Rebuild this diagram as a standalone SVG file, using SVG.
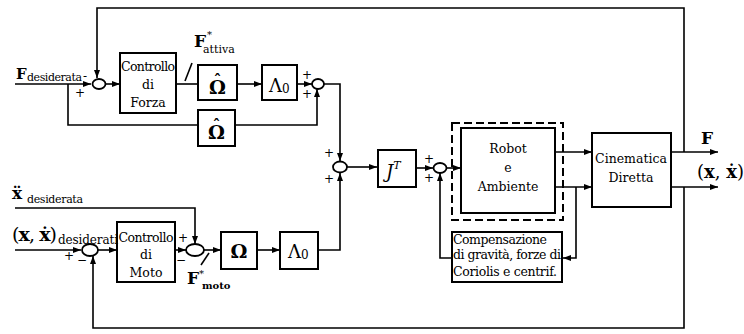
<svg xmlns="http://www.w3.org/2000/svg" width="744" height="334" viewBox="0 0 744 334">
<style>
.box{fill:#fff;stroke:#000;stroke-width:2}
.sum{fill:#fff;stroke:#000;stroke-width:1.8}
.w{fill:none;stroke:#000;stroke-width:1.6}
text{font-family:'DejaVu Serif','Liberation Serif',serif;fill:#000}
.lbl{font-size:12.5px;text-anchor:middle}
.sg{font-size:12px;text-anchor:middle}
.b{font-weight:bold}
</style>
<defs>
<marker id="a" markerUnits="userSpaceOnUse" markerWidth="9" markerHeight="8" refX="8" refY="4" orient="auto">
<path d="M0,1 L8,4 L0,7 Z" fill="#000"/>
</marker>
</defs>
<rect width="744" height="334" fill="#fff"/>
<g id="connectors">
<path class="w" d="M15,84 H91" marker-end="url(#a)"/>
<path class="w" d="M684,152 V8 H97 V78" marker-end="url(#a)"/>
<path class="w" d="M105.5,84 H120" marker-end="url(#a)"/>
<path class="w" d="M68,84 V125 H198"/>
<path class="w" d="M235,125 H317 V89" marker-end="url(#a)"/>
<path class="w" d="M176,84 H198"/>
<path class="w" d="M185,81 L192,63"/>
<path class="w" d="M237,84 H262" marker-end="url(#a)"/>
<path class="w" d="M297,84 H312" marker-end="url(#a)"/>
<path class="w" d="M324,84 H340 V161" marker-end="url(#a)"/>
<path class="w" d="M318,250 H340 V173" marker-end="url(#a)"/>
<path class="w" d="M347,167 H377" marker-end="url(#a)"/>
<path class="w" d="M416,168 H433" marker-end="url(#a)"/>
<path class="w" d="M446.5,168 H461" marker-end="url(#a)"/>
<path class="w" d="M555,152 H592" marker-end="url(#a)"/>
<path class="w" d="M555,187 H592" marker-end="url(#a)"/>
<path class="w" d="M576,187 V258 H563" marker-end="url(#a)"/>
<path class="w" d="M452,258 H440 V173" marker-end="url(#a)"/>
<path class="w" d="M671,152 H718" marker-end="url(#a)"/>
<path class="w" d="M671,187 H718" marker-end="url(#a)"/>
<path class="w" d="M684,187 V328 H93 V256" marker-end="url(#a)"/>
<path class="w" d="M15,250 H81" marker-end="url(#a)"/>
<path class="w" d="M98,250 H117" marker-end="url(#a)"/>
<path class="w" d="M175,250 H186" marker-end="url(#a)"/>
<path class="w" d="M15,208 H195 V244" marker-end="url(#a)"/>
<path class="w" d="M204,250 H221" marker-end="url(#a)"/>
<path class="w" d="M201,265 L209,253"/>
<path class="w" d="M257,250 H280" marker-end="url(#a)"/>
</g>
<g id="sum1"><ellipse class="sum" cx="99" cy="84" rx="6.5" ry="5"/>
<text class="sg" x="80" y="97">+</text></g>
<g id="sum2"><ellipse class="sum" cx="318" cy="84" rx="6" ry="5"/>
<text class="sg" x="307" y="79">+</text><text class="sg" x="307" y="98">+</text></g>
<g id="sum3"><ellipse class="sum" cx="340" cy="167" rx="7" ry="5.5"/>
<text class="sg" x="329" y="157">+</text><text class="sg" x="329" y="183">+</text></g>
<g id="sum4"><ellipse class="sum" cx="440" cy="168" rx="6.5" ry="5"/>
<text class="sg" x="429" y="163">+</text><text class="sg" x="429" y="182">+</text></g>
<g id="sumM1"><ellipse class="sum" cx="90" cy="250" rx="8" ry="6"/>
<text class="sg" x="69" y="260">+</text><text class="sg" x="82" y="264">−</text></g>
<g id="sumM2"><ellipse class="sum" cx="195" cy="250" rx="9" ry="6"/>
<text class="sg" x="183" y="242">+</text><text class="sg" x="181" y="264">−</text></g>
<g id="controllo-forza"><rect class="box" x="120" y="53" width="56" height="60"/>
<text class="lbl" x="148" y="71" textLength="54">Controllo</text><text class="lbl" x="148" y="89">di</text><text class="lbl" x="148" y="107">Forza</text></g>
<g id="omegahat1"><rect class="box" x="198" y="65" width="39" height="35"/>
<text class="b" x="217.5" y="94" font-size="19" text-anchor="middle">Ω<tspan x="217.5" y="85" font-size="15">ˆ</tspan></text></g>
<g id="omegahat2"><rect class="box" x="198" y="110" width="37" height="36"/>
<text class="b" x="216.5" y="139" font-size="19" text-anchor="middle">Ω<tspan x="216.5" y="130" font-size="15">ˆ</tspan></text></g>
<g id="lambda1"><rect class="box" x="262" y="65" width="35" height="35"/>
<text x="269" y="92" font-size="18">Λ<tspan font-size="12" dy="1">0</tspan></text></g>
<g id="controllo-moto"><rect class="box" x="117" y="222" width="58" height="60"/>
<text class="lbl" x="146" y="242" textLength="55">Controllo</text><text class="lbl" x="146" y="259">di</text><text class="lbl" x="146" y="277">Moto</text></g>
<g id="omega"><rect class="box" x="221" y="232" width="36" height="37"/>
<text class="b" x="239" y="258" font-size="19" text-anchor="middle">Ω</text></g>
<g id="lambda2"><rect class="box" x="280" y="232" width="38" height="37"/>
<text x="288" y="258" font-size="18">Λ<tspan font-size="12" dy="1">0</tspan></text></g>
<g id="jt"><rect class="box" x="378" y="150" width="38" height="37"/>
<text x="386" y="178" font-size="18" font-style="italic">J<tspan font-size="11" dy="-9">T</tspan></text></g>
<g id="robot"><rect x="452" y="123" width="111" height="97" fill="none" stroke="#000" stroke-width="2" stroke-dasharray="8,4"/>
<rect class="box" x="461" y="128" width="94" height="85" stroke-width="2.5"/>
<text class="lbl" x="508" y="153">Robot</text><text class="lbl" x="508" y="172">e</text><text class="lbl" x="508" y="191">Ambiente</text></g>
<g id="compensazione"><rect class="box" x="452" y="232" width="110" height="50"/>
<text x="453" y="244" font-size="12.5" textLength="94">Compensazione</text>
<text x="453" y="259" font-size="12.5" textLength="108">di gravità, forze di</text>
<text x="453" y="276" font-size="12.5" textLength="104">Coriolis e centrif.</text></g>
<g id="cinematica"><rect class="box" x="592" y="133" width="79" height="74"/>
<text class="lbl" x="631" y="163">Cinematica</text><text class="lbl" x="631" y="182">Diretta</text></g>
<g id="labels">
<text x="16" y="79" font-size="15" font-weight="bold">F<tspan x="27" y="81" font-size="11" font-weight="normal" textLength="55">desiderata</tspan><tspan x="83" y="80" font-size="12" font-weight="normal">-</tspan></text>
<text x="194" y="47" font-size="17" font-weight="bold">F<tspan x="207" y="38" font-size="10" font-weight="normal">*</tspan><tspan x="203" y="53" font-size="11" font-weight="normal">attiva</tspan></text>
<text x="12" y="199" font-size="17" font-weight="bold">ẍ<tspan x="27" y="203" font-size="11" font-weight="normal" textLength="56">desiderata</tspan></text>
<text x="12" y="241" font-size="19" textLength="45">(<tspan font-weight="bold">x</tspan>, <tspan font-weight="bold">ẋ</tspan>)</text>
<text x="58" y="244" font-size="12" textLength="60">desiderati</text>
<text x="187" y="284" font-size="17" font-weight="bold">F<tspan x="199" y="277" font-size="10" font-weight="normal">*</tspan><tspan x="202" y="289" font-size="10">moto</tspan></text>
<text class="b" x="701" y="144" font-size="17">F</text>
<text x="697" y="178" font-size="18">(<tspan font-weight="bold">x</tspan>, <tspan font-weight="bold">ẋ</tspan>)</text>
</g>
</svg>
